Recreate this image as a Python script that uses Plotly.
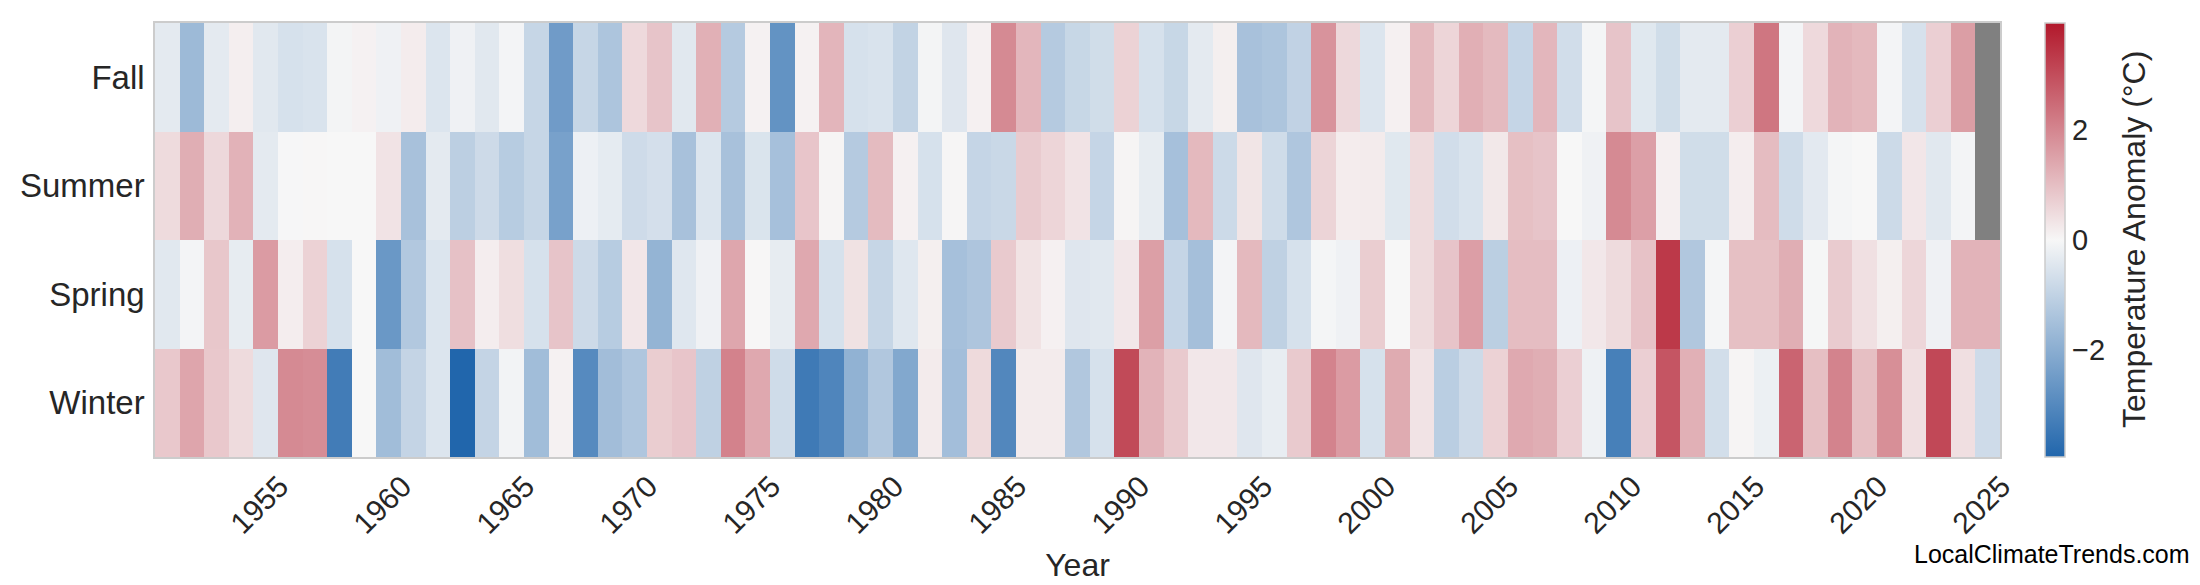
import plotly.graph_objects as go

years = list(range(1951, 2026))

fall = [
    -0.35, -1.66, -0.35, 0.16, -0.40, -0.60, -0.55, -0.08, 0.10, -0.15,
    0.20, -0.50, -0.15, -0.40, -0.07, -0.90, -2.50, -0.90, -1.37, 0.53,
    0.90, -0.40, 1.26, -1.22, 0.10, -2.73, 0.10, 1.17, -0.60, -0.55,
    -0.98, -0.08, -0.45, 0.12, 1.93, 1.15, -1.22, -0.88, -0.72, 0.65,
    -0.60, -0.88, -0.35, 0.15, -1.46, -1.37, -1.00, 1.77, 0.55, -0.50,
    0.12, 1.10, 0.60, 1.27, 1.08, -0.92, 1.15, -0.70, -0.05, 0.90,
    -0.42, -0.72, -0.35, -0.35, 0.70, 2.28, -0.07, 0.53, 1.20, 1.10,
    -0.07, -0.60, 0.70, 1.58, None,
]

summer = [
    0.50, 1.30, 0.55, 1.22, -0.35, -0.02, 0.02, 0.00, 0.00, 0.35,
    -1.46, -0.35, -1.09, -0.78, -1.18, -0.90, -2.34, -0.18, -0.33, -0.75,
    -0.65, -1.46, -0.50, -1.46, -0.53, -1.50, 0.88, 0.05, -1.22, 1.07,
    0.12, -0.60, 0.03, -0.92, -0.85, 0.78, 0.60, 0.35, -0.92, 0.05,
    -0.30, -1.50, 1.10, -0.80, 0.32, -0.73, -1.33, 0.62, 0.20, 0.22,
    -0.42, 0.50, -0.70, -0.55, 0.27, 0.98, 0.90, 0.00, -0.15, 1.93,
    1.55, 0.14, -0.72, -0.72, 0.17, 1.05, -0.74, -0.37, -0.05, 0.00,
    -0.80, 0.30, -0.40, -0.07, None,
]

spring = [
    -0.40, -0.07, 0.85, -0.30, 1.63, 0.17, 0.65, -0.60, 0.00, -2.60,
    -1.28, -0.50, 0.95, 0.17, 0.45, -0.60, 0.90, -0.78, -1.18, 0.30,
    -1.83, -0.44, -0.15, 1.43, 0.02, -0.30, 1.40, -0.60, 0.38, -0.90,
    -0.44, 0.15, -1.50, -1.35, 0.80, 0.36, 0.12, -0.45, -0.40, 0.28,
    1.56, -0.92, -1.52, -0.07, 1.10, -1.03, -0.60, -0.05, -0.15, 0.75,
    0.00, 0.50, 0.90, 1.57, -1.10, 1.02, 1.02, -0.18, 0.28, 0.50,
    0.93, 3.36, -1.30, -0.05, 0.98, 0.98, 1.30, -0.03, 0.78, 0.40,
    0.15, 0.58, -0.15, 1.20, 1.20,
]

winter = [
    0.83, 1.45, 0.83, 0.50, -0.45, 1.93, 1.88, -3.35, 0.00, -1.58,
    -0.95, -0.50, -3.95, -0.95, -0.10, -1.58, 0.10, -2.97, -1.57, -1.33,
    0.75, 0.88, -1.03, 2.07, 1.40, -0.74, -3.40, -3.10, -1.88, -1.30,
    -2.16, 0.22, -1.55, 0.52, -3.05, 0.22, 0.22, -1.30, -0.60, 3.07,
    1.20, 0.80, 0.28, 0.28, -0.45, -0.28, 0.80, 2.05, 1.63, -0.60,
    1.35, 0.35, -1.12, -0.78, 0.65, 1.38, 1.30, 0.70, -0.17, -3.25,
    0.70, 2.87, 1.26, -0.68, 0.05, -0.20, 2.60, 1.00, 2.05, 1.00,
    1.85, 0.42, 3.10, 0.42, -0.75,
]

seasons = ["Winter", "Spring", "Summer", "Fall"]
tick_years = list(range(1955, 2026, 5))
cbar_ticks = [-2, 0, 2]
vlim = 3.95

FONT = "Liberation Sans, Arial, Helvetica, sans-serif"
TXT = "#262626"

W, H = 2200, 585
L, R, T, B = 147, 2200 - 1992, 15, 585 - 449
pw = W - L - R
ph = H - T - B

fig = go.Figure(
    go.Heatmap(
        x=years,
        y=seasons,
        z=[winter, spring, summer, fall],
        zmin=-vlim,
        zmax=vlim,
        colorscale=[[0, "#2166ac"], [0.5, "#f7f7f7"], [1, "#b2182b"]],
        hoverongaps=False,
        colorbar=dict(
            x=(2037 - L) / pw,
            xanchor="left",
            xpad=0,
            y=0.5,
            yanchor="middle",
            ypad=0,
            len=1.0,
            lenmode="fraction",
            thickness=20,
            outlinecolor="#cccccc",
            outlinewidth=1.5,
            tickvals=cbar_ticks,
            ticks="",
            tickfont=dict(family=FONT, size=29, color=TXT),
        ),
    )
)

fig.update_layout(
    width=W,
    height=H,
    margin=dict(l=L, r=R, t=T, b=B, autoexpand=False),
    paper_bgcolor="white",
    plot_bgcolor="#808080",
    font=dict(family=FONT, color=TXT),
    xaxis=dict(
        range=[years[0] - 0.5, years[-1] + 0.5],
        tickvals=tick_years,
        tickangle=-45,
        ticks="",
        automargin=False,
        showgrid=False,
        zeroline=False,
        showline=True,
        mirror=True,
        linecolor="#cccccc",
        linewidth=1.5,
        tickfont=dict(family=FONT, size=30, color=TXT),
        ticklabelshift=14,
        ticklabelstandoff=-2,
        title=dict(text="Year", font=dict(family=FONT, size=32, color=TXT), standoff=15),
    ),
    yaxis=dict(
        type="category",
        categoryorder="array",
        categoryarray=seasons,
        ticks="",
        automargin=False,
        showgrid=False,
        zeroline=False,
        showline=True,
        mirror=True,
        linecolor="#cccccc",
        linewidth=1.5,
        tickfont=dict(family=FONT, size=33, color=TXT),
        ticklabelstandoff=2,
    ),
    annotations=[
        dict(
            text="Temperature Anomaly (°C)",
            xref="paper",
            yref="paper",
            x=(2126 - L) / pw,
            y=0.5,
            xanchor="center",
            yanchor="middle",
            textangle=-90,
            showarrow=False,
            font=dict(family=FONT, size=32, color=TXT),
        ),
        dict(
            text="LocalClimateTrends.com",
            xref="paper",
            yref="paper",
            x=(2184 - L) / pw,
            y=(449 - 546) / ph,
            xanchor="right",
            yanchor="middle",
            showarrow=False,
            font=dict(family=FONT, size=25, color="#000000"),
        ),
    ],
)

fig.write_html("out.html")
